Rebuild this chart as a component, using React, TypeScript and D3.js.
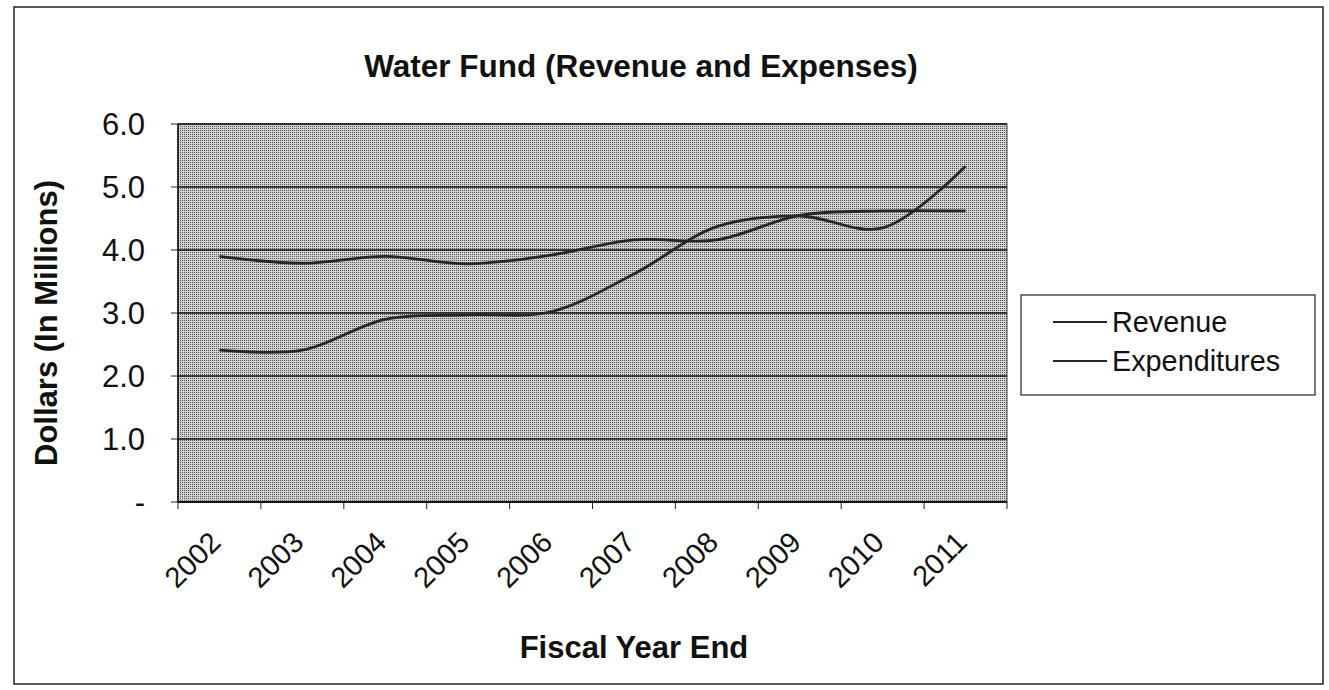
import React from "react";
import * as d3 from "d3";

const years = ["2002", "2003", "2004", "2005", "2006", "2007", "2008", "2009", "2010", "2011"];
const revenue = [3.9, 3.79, 3.9, 3.78, 3.92, 4.16, 4.16, 4.55, 4.62, 4.62];
const expenditures = [2.41, 2.41, 2.9, 2.97, 3.02, 3.62, 4.37, 4.54, 4.35, 5.33];
const yTicks = [0, 1, 2, 3, 4, 5, 6];
const seriesNames = ["Revenue", "Expenditures"];

const W = 1329;
const H = 690;
const plot = { left: 178, right: 1007, top: 124, bottom: 502 };
const FONT = "'Liberation Sans', Arial, sans-serif";

export default function App() {
  const x = d3.scaleBand<string>().domain(years).range([plot.left, plot.right]);
  const y = d3.scaleLinear().domain([0, 6]).range([plot.bottom, plot.top]);
  const line = d3
    .line<number>()
    .x((_, i) => (x(years[i]) as number) + x.bandwidth() / 2)
    .y((d) => y(d))
    .curve(d3.curveCatmullRom.alpha(0.5));
  const series = [revenue, expenditures];
  const boundaries = years.map((yr) => x(yr) as number).concat([plot.right]);

  return (
    <svg
      width={W}
      height={H}
      style={{ position: "absolute", left: 0, top: 0, background: "#fff" }}
      fontFamily={FONT}
    >
      <defs>
        <pattern id="dots" width="2" height="2" patternUnits="userSpaceOnUse">
          <rect width="2" height="2" fill="#d2d2d2" />
          <rect width="1" height="1" fill="#555" />
        </pattern>
      </defs>
      <rect x={14} y={7} width={1309} height={677} fill="#fff" stroke="#222" strokeWidth={1.5} />
      <text x={641} y={77} textAnchor="middle" fontSize={31.5} fontWeight="bold" fill="#111">
        Water Fund (Revenue and Expenses)
      </text>

      <rect
        x={plot.left}
        y={plot.top}
        width={plot.right - plot.left}
        height={plot.bottom - plot.top}
        fill="url(#dots)"
        stroke="#444"
        strokeWidth={1}
      />
      {yTicks.map((t) => (
        <g key={t}>
          <line x1={plot.left} x2={plot.right} y1={y(t)} y2={y(t)} stroke="#111" strokeWidth={1.3} />
          <line x1={plot.left - 7} x2={plot.left} y1={y(t)} y2={y(t)} stroke="#222" strokeWidth={1} />
          <text x={145} y={y(t)} dy="0.36em" textAnchor="end" fontSize={31} fill="#111">
            {t === 0 ? "-" : t.toFixed(1)}
          </text>
        </g>
      ))}
      <line x1={plot.left} x2={plot.left} y1={plot.top} y2={plot.bottom} stroke="#111" strokeWidth={1.5} />
      <line x1={plot.left} x2={plot.right} y1={plot.bottom} y2={plot.bottom} stroke="#111" strokeWidth={1.5} />
      {boundaries.map((bx, i) => (
        <line key={i} x1={bx} x2={bx} y1={plot.bottom} y2={plot.bottom + 7} stroke="#222" strokeWidth={1} />
      ))}
      {years.map((yr) => {
        const cx = (x(yr) as number) + x.bandwidth() / 2;
        return (
          <text
            key={yr}
            transform={`translate(${cx + 3},${plot.bottom + 42}) rotate(-45)`}
            textAnchor="end"
            fontSize={29}
            fill="#111"
          >
            {yr}
          </text>
        );
      })}

      {series.map((s, i) => (
        <path key={i} d={line(s) as string} fill="none" stroke="#262626" strokeWidth={2.8} />
      ))}

      <text
        transform={`translate(57,323) rotate(-90)`}
        textAnchor="middle"
        fontSize={31}
        fontWeight="bold"
        fill="#111"
      >
        Dollars (In Millions)
      </text>
      <text x={634} y={658} textAnchor="middle" fontSize={31} fontWeight="bold" fill="#111">
        Fiscal Year End
      </text>

      <rect x={1021} y={295} width={294} height={100} fill="#fff" stroke="#222" strokeWidth={1.2} />
      {seriesNames.map((n, i) => {
        const ly = 322 + i * 39;
        return (
          <g key={n}>
            <line x1={1053} x2={1107} y1={ly} y2={ly} stroke="#262626" strokeWidth={2.2} />
            <text x={1112} y={ly} dy="0.36em" fontSize={28.8} fill="#111">
              {n}
            </text>
          </g>
        );
      })}
    </svg>
  );
}
